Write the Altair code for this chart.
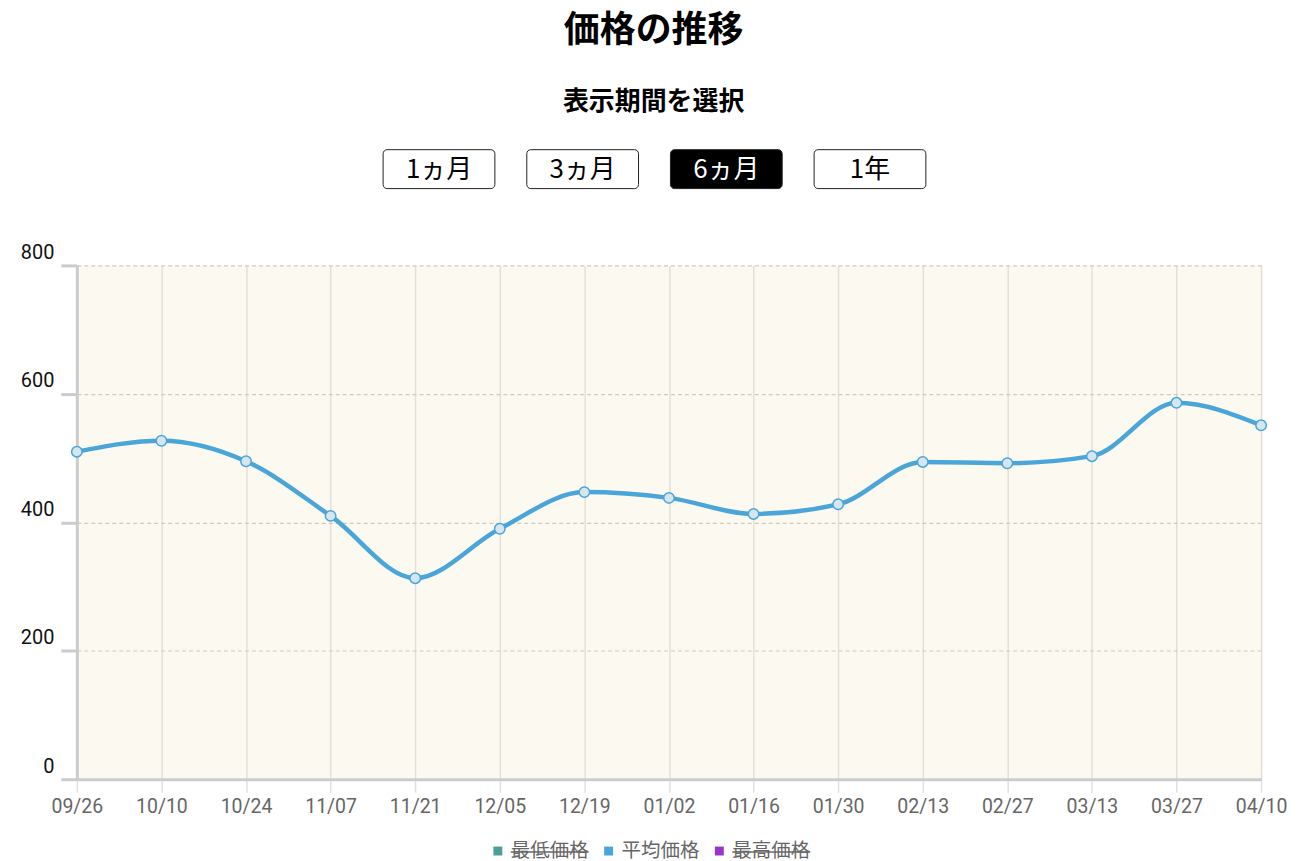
import altair as alt
import pandas as pd

dates = ["09/26", "10/10", "10/24", "11/07", "11/21", "12/05", "12/19", "01/02",
         "01/16", "01/30", "02/13", "02/27", "03/13", "03/27", "04/10"]
avg_price = [510, 527, 495, 410, 313, 390, 447, 438, 413, 428, 494, 492, 503, 586, 551]

buttons = ["1ヵ月", "3ヵ月", "6ヵ月", "1年"]
selected = "6ヵ月"

legend_items = ["最低価格", "平均価格", "最高価格"]
legend_colors = ["#4d9e96", "#4aa6d9", "#9b33c9"]
legend_hidden = [True, False, True]

FONT = "Noto Sans CJK JP"
NUMFONT = "Roboto"
LINE = "#4aa6d9"
W = 1187

df = pd.DataFrame({"date": dates, "price": avg_price})
bdf = pd.DataFrame({"label": buttons, "sel": [b == selected for b in buttons]})
ldf = pd.DataFrame({"item": legend_items, "color": legend_colors, "hidden": legend_hidden})

# ---- buttons ----
bx = alt.X("label:N", sort=buttons, axis=None,
           scale=alt.Scale(type="band", range=[307, 851], paddingInner=32 / 144, paddingOuter=0))
btn_rect = alt.Chart(bdf).mark_rect(cornerRadius=4, stroke="#222", strokeWidth=1).encode(
    x=bx, y=alt.value(0), y2=alt.value(39),
    fill=alt.condition("datum.sel", alt.value("#000000"), alt.value("#ffffff")),
)
btn_text = alt.Chart(bdf).mark_text(font=FONT, fontSize=26, baseline="middle").encode(
    x=bx, y=alt.value(20), text="label:N",
    color=alt.condition("datum.sel", alt.value("#ffffff"), alt.value("#000000")),
)
button_chart = alt.layer(btn_rect, btn_text).properties(width=W, height=39)

# ---- main chart ----
x = alt.X("date:O", sort=dates, title=None,
          scale=alt.Scale(type="point", padding=0),
          axis=alt.Axis(labelAngle=0, labelFont=NUMFONT, labelFontSize=19.5,
                        labelColor="#666666", labelPadding=5,
                        grid=True, gridColor="#e3e0da", gridWidth=1.5,
                        domainColor="#cccccc", domainWidth=3,
                        tickColor="#e3e0da", tickSize=13, tickWidth=1.5))
y = alt.Y("price:Q", title=None,
          scale=alt.Scale(domain=[0, 800], nice=False),
          axis=alt.Axis(values=[0, 200, 400, 600, 800], labelFont=NUMFONT,
                        labelFontSize=20, labelColor="#111111", labelBaseline="bottom",
                        labelOffset=-3, labelPadding=7,
                        grid=True, gridColor="#cfcac2", gridDash=[4, 3], gridWidth=1.2,
                        domainColor="#cccccc", domainWidth=3,
                        tickColor="#cccccc", tickSize=16, tickWidth=3))

line = alt.Chart(df).mark_line(color=LINE, strokeWidth=4.5, interpolate="monotone").encode(x=x, y=y)
pts = alt.Chart(df).mark_point(shape="circle", size=110, filled=True, fill="#d6e6ef",
                               stroke=LINE, strokeWidth=1.5, opacity=1).encode(x=x, y=y)
main_chart = alt.layer(line, pts).properties(
    width=W, height=515, view=alt.ViewBackground(fill="#fcf9f1", stroke=None))

# ---- legend ----
lx = alt.X("item:N", sort=legend_items, axis=None,
           scale=alt.Scale(type="point", range=[474, 696], padding=0))
leg_sq = alt.Chart(ldf).mark_square(size=80, filled=True, opacity=1, xOffset=-52).encode(
    x=lx, y=alt.value(10), color=alt.Color("color:N", scale=None))
leg_txt = alt.Chart(ldf).mark_text(font=FONT, fontSize=19.5, color="#666666",
                                   baseline="middle").encode(
    x=lx, y=alt.value(10), text="item:N")
leg_strike = alt.Chart(ldf).transform_filter("datum.hidden").mark_rule(
    color="#666666", strokeWidth=1.5, xOffset=-39, x2Offset=39).encode(
    x=lx, x2=alt.X2("item"), y=alt.value(11))
legend_chart = alt.layer(leg_sq, leg_txt, leg_strike).properties(width=W, height=20)

lower = alt.vconcat(main_chart, legend_chart, spacing=25)

chart = alt.vconcat(button_chart, lower, spacing=53).properties(
    padding={"left": 12, "top": 4, "right": 5, "bottom": 5},
    title=alt.TitleParams("価格の推移", subtitle="表示期間を選択", font=FONT, fontSize=36,
                          fontWeight="bold", color="#000000", anchor="middle",
                          subtitleFont=FONT, subtitleFontSize=26, subtitleFontWeight="bold",
                          subtitleColor="#000000", subtitlePadding=39, offset=33),
).configure_view(stroke=None)

chart.save("out.html", embed_options={"renderer": "svg", "actions": False})
